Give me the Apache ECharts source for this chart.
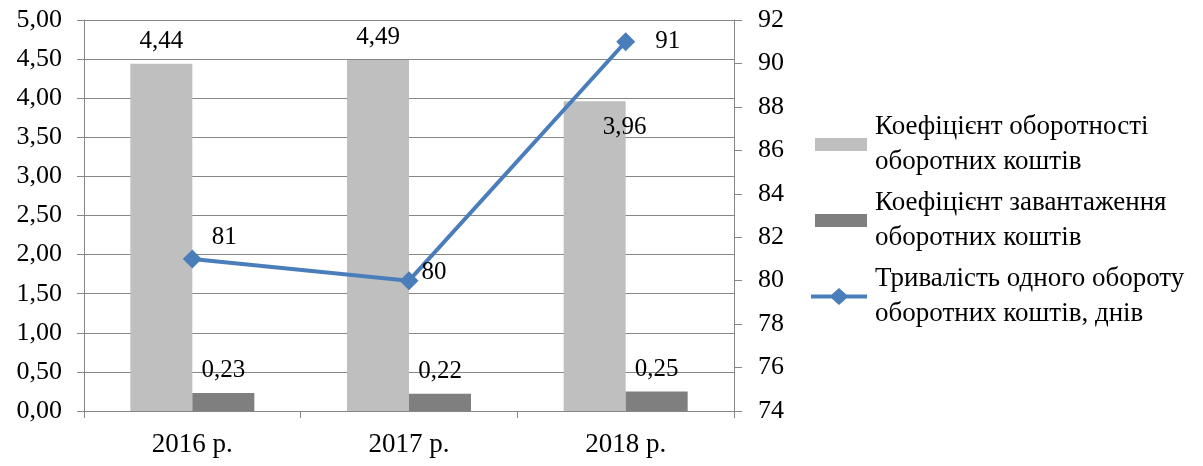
<!DOCTYPE html>
<html>
<head>
<meta charset="utf-8">
<script src="https://cdn.jsdelivr.net/npm/echarts@6/dist/echarts.min.js"></script>
<style>
  html, body { margin: 0; padding: 0; background: #ffffff; }
  #chart { width: 1203px; height: 466px; }
</style>
</head>
<body>
<div id="chart"></div>
<script>
// Turnover indicators of working capital, 2016–2018
const years = ['2016 р.', '2017 р.', '2018 р.'];
const turnoverRatio = [4.44, 4.49, 3.96];   // Коефіцієнт оборотності
const loadRatio = [0.23, 0.22, 0.25];       // Коефіцієнт завантаження
const turnoverDays = [81, 80, 91];          // Тривалість одного обороту, днів

const names = [
  'Коефіцієнт оборотності\nоборотних коштів',
  'Коефіцієнт завантаження\nоборотних коштів',
  'Тривалість одного обороту\nоборотних коштів, днів'
];

const FONT = '"Liberation Serif", "Times New Roman", serif';
const AXIS_GRAY = '#868686';
const commaFmt = v => v.toFixed(2).replace('.', ',');

// Legend icons in a 56×17 box: a 52×13 swatch for the bars,
// a thick line with a diamond for the line series.
const BAR_ICON = 'path://M0,0 L0,0 M4,2 L56,2 L56,15 L4,15 Z M56,17 L56,17';
const LINE_ICON = 'path://M0,6.5 L56,6.5 L56,10.5 L0,10.5 Z M28,0 L37.5,8.5 L28,17 L18.5,8.5 Z';

const chart = echarts.init(document.getElementById('chart'), null, { renderer: 'canvas' });

const turnoverLabelOffsets = [[0, 0], [0, 0], [30, 49]];
const dayLabelOffsets = [[32, -22], [25, -8], [42, 0]];

chart.setOption({
  animation: false,
  textStyle: { fontFamily: FONT },
  grid: { left: 84, right: 469, top: 20, bottom: 55, containLabel: false },
  legend: {
    orient: 'vertical',
    left: 811,
    top: 92,
    padding: 0,
    itemGap: -29,
    itemWidth: 56,
    itemHeight: 17,
    data: [
      { name: names[0], icon: BAR_ICON },
      { name: names[1], icon: BAR_ICON },
      { name: names[2], icon: LINE_ICON }
    ],
    textStyle: {
      fontFamily: FONT,
      fontSize: 27,
      color: '#000',
      lineHeight: 35,
      padding: [35, 0, 0, 3]
    }
  },
  xAxis: {
    type: 'category',
    data: years,
    axisLine: { lineStyle: { color: AXIS_GRAY, width: 1 } },
    axisTick: { show: true, length: 7, lineStyle: { color: AXIS_GRAY } },
    axisLabel: { color: '#000', fontSize: 27, margin: 20, fontFamily: FONT }
  },
  yAxis: [
    {
      type: 'value',
      min: 0, max: 5, interval: 0.5,
      axisLine: { show: true, lineStyle: { color: AXIS_GRAY } },
      axisTick: { show: true, length: 7, lineStyle: { color: AXIS_GRAY } },
      splitLine: { show: true, lineStyle: { color: AXIS_GRAY, width: 1 } },
      axisLabel: { color: '#000', fontSize: 26, margin: 22, fontFamily: FONT, formatter: commaFmt }
    },
    {
      type: 'value',
      min: 74, max: 92, interval: 2,
      axisLine: { show: true, lineStyle: { color: AXIS_GRAY } },
      axisTick: { show: true, length: 8, lineStyle: { color: AXIS_GRAY } },
      splitLine: { show: false },
      axisLabel: { color: '#000', fontSize: 26, margin: 24, fontFamily: FONT }
    }
  ],
  series: [
    {
      name: names[0],
      type: 'bar',
      yAxisIndex: 0,
      barWidth: 62,
      barGap: '0%',
      itemStyle: { color: '#bfbfbf' },
      data: turnoverRatio.map((v, i) => ({
        value: v,
        label: { offset: turnoverLabelOffsets[i] }
      })),
      label: {
        show: true, position: 'top', distance: 10,
        color: '#000', fontSize: 25, fontFamily: FONT,
        formatter: p => commaFmt(p.value)
      }
    },
    {
      name: names[1],
      type: 'bar',
      yAxisIndex: 0,
      barWidth: 62,
      barGap: '0%',
      itemStyle: { color: '#7f7f7f' },
      data: loadRatio,
      label: {
        show: true, position: 'top', distance: 10,
        color: '#000', fontSize: 25, fontFamily: FONT,
        formatter: p => commaFmt(p.value)
      }
    },
    {
      name: names[2],
      type: 'line',
      yAxisIndex: 1,
      symbol: 'diamond',
      symbolSize: 19,
      lineStyle: { color: '#4a7ebb', width: 4 },
      itemStyle: { color: '#4a7ebb' },
      z: 5,
      data: turnoverDays.map((v, i) => ({
        value: v,
        label: { offset: dayLabelOffsets[i] }
      })),
      label: {
        show: true, position: 'inside',
        color: '#000', fontSize: 25, fontFamily: FONT
      }
    }
  ]
});
</script>
</body>
</html>
